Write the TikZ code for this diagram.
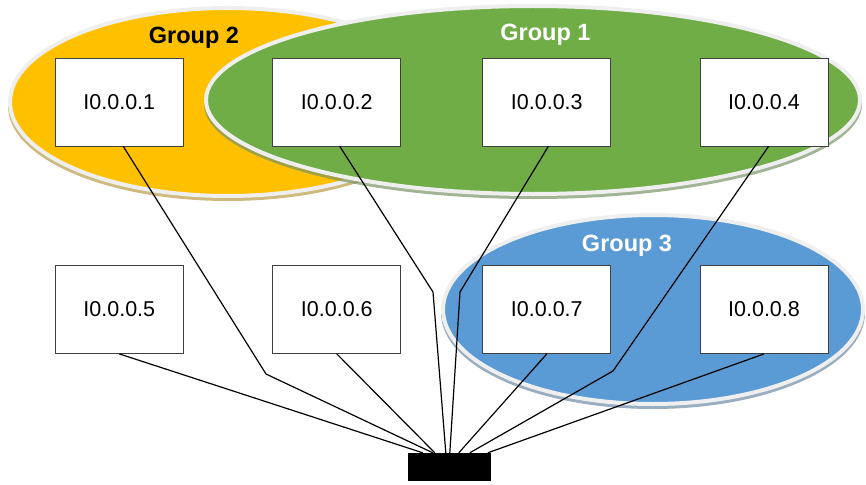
\documentclass[tikz,border=0pt]{standalone}
\usepackage{fontspec}
\setmainfont{Liberation Sans}
\usepackage{tikz}
\definecolor{grpyellow}{HTML}{FFC000}
\definecolor{grpgreen}{HTML}{70AD47}
\definecolor{grpblue}{HTML}{5B9BD5}
\definecolor{rim}{HTML}{EFEFEF}

\begin{document}
\begin{tikzpicture}[x=1pt,y=-1pt,
		host/.style={draw=black!75, fill=white, line width=0.8pt, minimum width=128pt, minimum height=88pt, inner sep=0pt, font=\fontsize{21.5}{25}\selectfont},
		grouplabel/.style={font=\fontsize{23.5}{27}\selectfont\bfseries, anchor=base},
		wire/.style={line width=1.2pt}]
		\useasboundingbox (0,0) rectangle (866,484);
		% groups
		\fill[grpyellow!45!gray, opacity=0.7] (228,106) ellipse [x radius=220pt, y radius=95pt];
		\filldraw[fill=grpyellow, draw=rim, line width=4pt] (228,102) ellipse [x radius=218pt, y radius=94pt];
		\fill[grpgreen!45!gray, opacity=0.7] (533,104) ellipse [x radius=329pt, y radius=95pt];
		\filldraw[fill=grpgreen, draw=rim, line width=4pt] (533,100) ellipse [x radius=327pt, y radius=94pt];
		\fill[grpblue!45!gray, opacity=0.7] (653,313) ellipse [x radius=212pt, y radius=96pt];
		\filldraw[fill=grpblue, draw=rim, line width=4pt] (653,309.5) ellipse [x radius=210pt, y radius=94.5pt];
		\node[grouplabel] (g2) at (194,44) {Group 2};
		\node[grouplabel, text=white] (g1) at (545.5,41) {Group 1};
		\node[grouplabel, text=white] (g3) at (627,251) {Group 3};
		% hosts and switch
		\node[host] (ip1) at (119.3,102) {I0.0.0.1};
		\node[host] (ip2) at (336.8,102) {I0.0.0.2};
		\node[host] (ip3) at (546.8,102) {I0.0.0.3};
		\node[host] (ip4) at (764,102) {I0.0.0.4};
		\node[host] (ip5) at (119.3,309.5) {I0.0.0.5};
		\node[host] (ip6) at (336.8,309.5) {I0.0.0.6};
		\node[host] (ip7) at (546.8,309.5) {I0.0.0.7};
		\node[host] (ip8) at (764,309.5) {I0.0.0.8};
		\node[fill=black, minimum width=83pt, minimum height=28pt, inner sep=0pt] (sw) at (449.5,467) {};
		\coordinate (k1) at (266,374);
		\coordinate (k2) at (433,292);
		\coordinate (k3) at (460,292);
		\coordinate (k4) at (613,371);
		\draw[wire] ([xshift=4pt]ip1.south) -- (k1) -- ([xshift=25pt]sw.north west);
		\draw[wire] ([xshift=3pt]ip2.south) -- (k2) -- ([xshift=38pt]sw.north west);
		\draw[wire] ([xshift=1.5pt]ip3.south) -- (k3) -- ([xshift=42pt]sw.north west);
		\draw[wire] ([xshift=4.5pt]ip4.south) -- (k4) -- ([xshift=62pt]sw.north west);
		\draw[wire] (ip5.south) -- ([xshift=15pt]sw.north west);
		\draw[wire] (ip6.south) -- ([xshift=27pt]sw.north west);
		\draw[wire] (ip7.south) -- ([xshift=51pt]sw.north west);
		\draw[wire] (ip8.south) -- ([xshift=80pt]sw.north west);
	\end{tikzpicture}
\end{document}
